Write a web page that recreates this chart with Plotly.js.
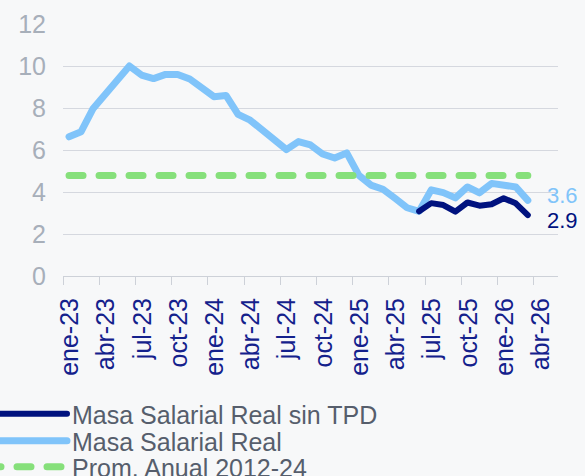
<!DOCTYPE html>
<html>
<head>
<meta charset="utf-8">
<script src="https://cdn.plot.ly/plotly-3.0.1.min.js"></script>
<style>
html, body { margin: 0; padding: 0; background: #F7F8F9; }
#chart { width: 585px; height: 476px; }
.js-line { stroke-linejoin: round; stroke-linecap: round; }
</style>
</head>
<body>
<div id="chart"></div>
<script>
// Category labels (months)
var months = [
  "ene-23","feb-23","mar-23","abr-23","may-23","jun-23","jul-23","ago-23","sep-23","oct-23","nov-23","dic-23",
  "ene-24","feb-24","mar-24","abr-24","may-24","jun-24","jul-24","ago-24","sep-24","oct-24","nov-24","dic-24",
  "ene-25","feb-25","mar-25","abr-25","may-25","jun-25","jul-25","ago-25","sep-25","oct-25","nov-25","dic-25",
  "ene-26","feb-26","mar-26","abr-26","may-26"
];

// Masa Salarial Real (ene-23 .. mar-26)
var masaReal = [
  6.63, 6.87, 7.98, 8.64, 9.32, 10.0, 9.57, 9.40, 9.60, 9.60, 9.38, 8.94,
  8.54, 8.60, 7.70, 7.42, 6.95, 6.48, 6.02, 6.40, 6.24, 5.81, 5.62, 5.86,
  4.80, 4.33, 4.13, 3.70, 3.25, 3.08, 4.10, 3.97, 3.72, 4.24, 3.96, 4.41,
  4.35, 4.24, 3.60
];

// Masa Salarial Real sin TPD (starts jun-25)
var masaSinTPD = [
  null, null, null, null, null, null, null, null, null, null, null, null,
  null, null, null, null, null, null, null, null, null, null, null, null,
  null, null, null, null, null, 3.08, 3.47, 3.38, 3.06, 3.50, 3.35, 3.42,
  3.70, 3.46, 2.90
];

// Prom. Anual 2012-24
var promAnual = 4.78;

// Tick labels every 3 months
var tickLabels = ["ene-23","abr-23","jul-23","oct-23","ene-24","abr-24","jul-24","oct-24","ene-25","abr-25","jul-25","oct-25","ene-26","abr-26"];

var idx = function (m) { return months.indexOf(m); };
var xData = masaReal.map(function (_, i) { return i; });
var lastI = masaReal.length - 1;

var cLight = "#80C4FA";
var cDark = "#00127F";
var cGreen = "#86E07B";

var traces = [
  {
    x: xData, y: masaReal, type: "scatter", mode: "lines",
    name: "Masa Salarial Real", legend: "legend2",
    line: { color: cLight, width: 7 }, hoverinfo: "skip"
  },
  {
    x: [xData[0], xData[lastI]], y: [promAnual, promAnual], type: "scatter", mode: "lines",
    name: "Prom. Anual 2012-24", legend: "legend3",
    line: { color: cGreen, width: 7, dash: "14px,16px" }, hoverinfo: "skip"
  },
  {
    x: xData, y: masaSinTPD, type: "scatter", mode: "lines",
    name: "Masa Salarial Real sin TPD", legend: "legend",
    line: { color: cDark, width: 6 }, hoverinfo: "skip"
  }
];

var plotL = 63, plotR = 558, plotT = 24, plotB = 276;
var W = 585, H = 476;
var pw = plotR - plotL, ph = plotB - plotT;
function lx(px) { return (px - plotL) / pw; }
function ly(py) { return (plotB - py) / ph; }

var legendFont = { family: "Liberation Sans, Arial, sans-serif", size: 25, color: "#565E6C" };
function mkLegend(py) {
  return {
    x: lx(-18), xanchor: "left", y: ly(py), yanchor: "middle",
    bgcolor: "rgba(0,0,0,0)", borderwidth: 0, itemwidth: 80,
    font: legendFont, orientation: "v"
  };
}

var layout = {
  width: W, height: H,
  margin: { l: plotL, r: W - plotR, t: plotT, b: H - plotB, autoexpand: false },
  paper_bgcolor: "#F7F8F9",
  plot_bgcolor: "#F7F8F9",
  font: { family: "Liberation Sans, Arial, sans-serif" },
  showlegend: true,
  legend: mkLegend(414),
  legend2: mkLegend(441),
  legend3: mkLegend(467),
  xaxis: {
    range: [-0.5, months.length - 0.5],
    tickmode: "array",
    tickvals: tickLabels.map(function (m) { return idx(m) - 0.5; }),
    ticktext: tickLabels,
    ticklabelshift: 7,
    tickangle: -90,
    ticks: "outside", ticklen: 8, tickwidth: 1, tickcolor: "#CDD1D8",
    showline: true, linecolor: "#CDD1D8", linewidth: 1,
    showgrid: false, zeroline: false,
    tickfont: { family: "Liberation Sans, Arial, sans-serif", size: 25, color: "#14218C" },
    ticklabelstandoff: 3
  },
  yaxis: {
    range: [0, 12], tickmode: "linear", tick0: 0, dtick: 2,
    showgrid: true, gridcolor: "#D5D8DF", gridwidth: 1,
    zeroline: false, showline: false, ticks: "",
    tickfont: { family: "Liberation Sans, Arial, sans-serif", size: 25, color: "#A7AFBA" },
    ticklabelstandoff: 16
  },
  annotations: [
    {
      x: xData[lastI], y: masaReal[lastI], xref: "x", yref: "y",
      text: masaReal[lastI].toFixed(1), showarrow: false,
      xanchor: "left", yanchor: "middle", xshift: 18, yshift: 5, borderpad: 0,
      font: { family: "Liberation Sans, Arial, sans-serif", size: 22, color: cLight }
    },
    {
      x: xData[lastI], y: masaSinTPD[lastI], xref: "x", yref: "y",
      text: masaSinTPD[lastI].toFixed(1), showarrow: false,
      xanchor: "left", yanchor: "middle", xshift: 18, yshift: -5, borderpad: 0,
      font: { family: "Liberation Sans, Arial, sans-serif", size: 22, color: cDark }
    }
  ]
};

Plotly.newPlot("chart", traces, layout, { displayModeBar: false, staticPlot: true });
</script>
</body>
</html>
